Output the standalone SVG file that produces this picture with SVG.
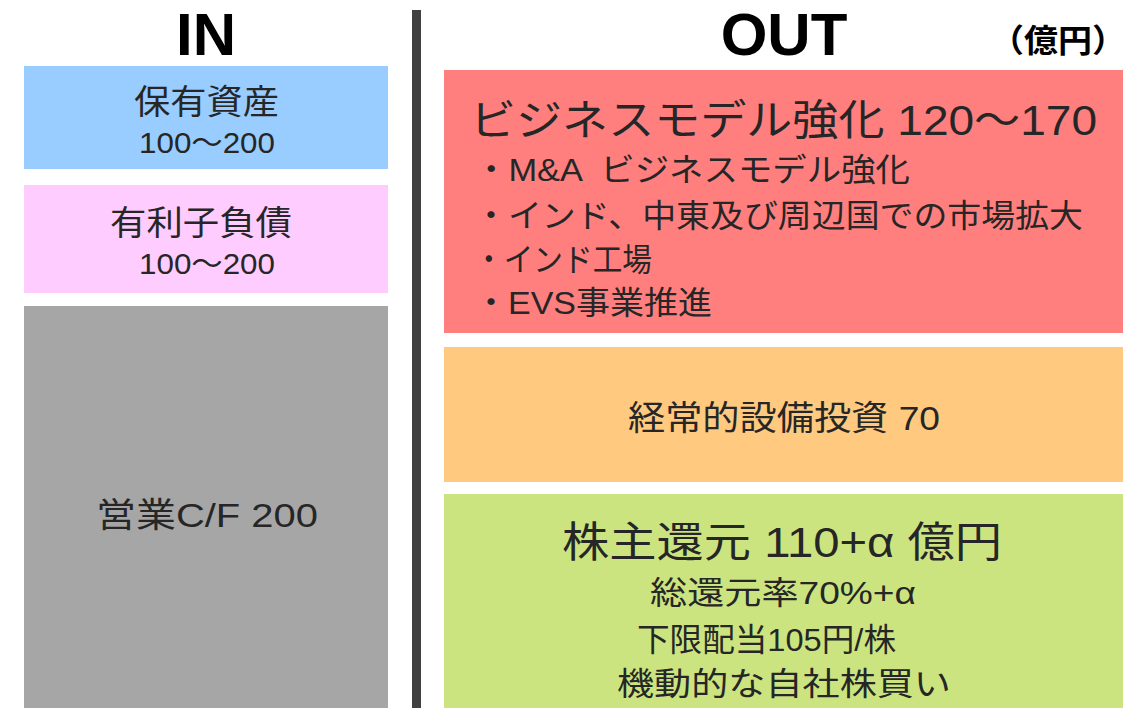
<svg xmlns="http://www.w3.org/2000/svg" width="1132" height="708" viewBox="0 0 1132 708">
<style>
text{font-family:"Liberation Sans","Noto Sans CJK JP",sans-serif;fill:#262626}
.t{font-weight:bold;fill:#000}
.c{text-anchor:middle}
</style>
<rect x="0" y="0" width="1132" height="708" fill="#fff"/>
<text class="t c" x="206" y="55" font-size="60">IN</text>
<text class="t c" x="784" y="55" font-size="60">OUT</text>
<text class="t" x="990" y="52" font-size="32" textLength="136" lengthAdjust="spacingAndGlyphs">（億円）</text>
<rect id="divider" x="412" y="10" width="9" height="698" fill="#404040"/>
<g id="in-assets">
<rect x="24" y="66" width="364" height="103" fill="#99CCFF"/>
<text x="134" y="114" font-size="34" textLength="145" lengthAdjust="spacingAndGlyphs">保有資産</text>
<text x="139" y="153" font-size="30" textLength="136" lengthAdjust="spacingAndGlyphs">100～200</text>
</g>
<g id="in-debt">
<rect x="24" y="185" width="364" height="108" fill="#FFCCFF"/>
<text x="110" y="235" font-size="34" textLength="182" lengthAdjust="spacingAndGlyphs">有利子負債</text>
<text x="139" y="274" font-size="30" textLength="136" lengthAdjust="spacingAndGlyphs">100～200</text>
</g>
<g id="in-cf">
<rect x="24" y="306" width="364" height="402" fill="#A6A6A6"/>
<text x="96" y="527" font-size="34" textLength="222" lengthAdjust="spacingAndGlyphs">営業C/F 200</text>
</g>
<g id="out-business">
<rect x="444" y="70" width="679" height="263" fill="#FF7F7F"/>
<text x="470" y="135" font-size="42" textLength="627" lengthAdjust="spacingAndGlyphs">ビジネスモデル強化 120～170</text>
<text x="474" y="181" font-size="32" textLength="436" lengthAdjust="spacingAndGlyphs" xml:space="preserve">・M&amp;A  ビジネスモデル強化</text>
<text x="474" y="227" font-size="32" textLength="609" lengthAdjust="spacingAndGlyphs">・インド、中東及び周辺国での市場拡大</text>
<text x="474" y="271" font-size="32" textLength="178" lengthAdjust="spacingAndGlyphs">・インド工場</text>
<text x="474" y="314" font-size="32" textLength="238" lengthAdjust="spacingAndGlyphs">・EVS事業推進</text>
</g>
<g id="out-capex">
<rect x="444" y="347" width="679" height="135" fill="#FFC97F"/>
<text x="628" y="430" font-size="34" textLength="312" lengthAdjust="spacingAndGlyphs">経常的設備投資 70</text>
</g>
<g id="out-return">
<rect x="444" y="494" width="679" height="214" fill="#CCE47F"/>
<text x="562" y="557" font-size="42" textLength="440" lengthAdjust="spacingAndGlyphs">株主還元 110+α 億円</text>
<text x="650" y="604" font-size="32" textLength="266" lengthAdjust="spacingAndGlyphs">総還元率70%+α</text>
<text x="637" y="651" font-size="32" textLength="259" lengthAdjust="spacingAndGlyphs">下限配当105円/株</text>
<text x="617" y="695" font-size="32" textLength="334" lengthAdjust="spacingAndGlyphs">機動的な自社株買い</text>
</g>
<g id="connectors"/>
</svg>
